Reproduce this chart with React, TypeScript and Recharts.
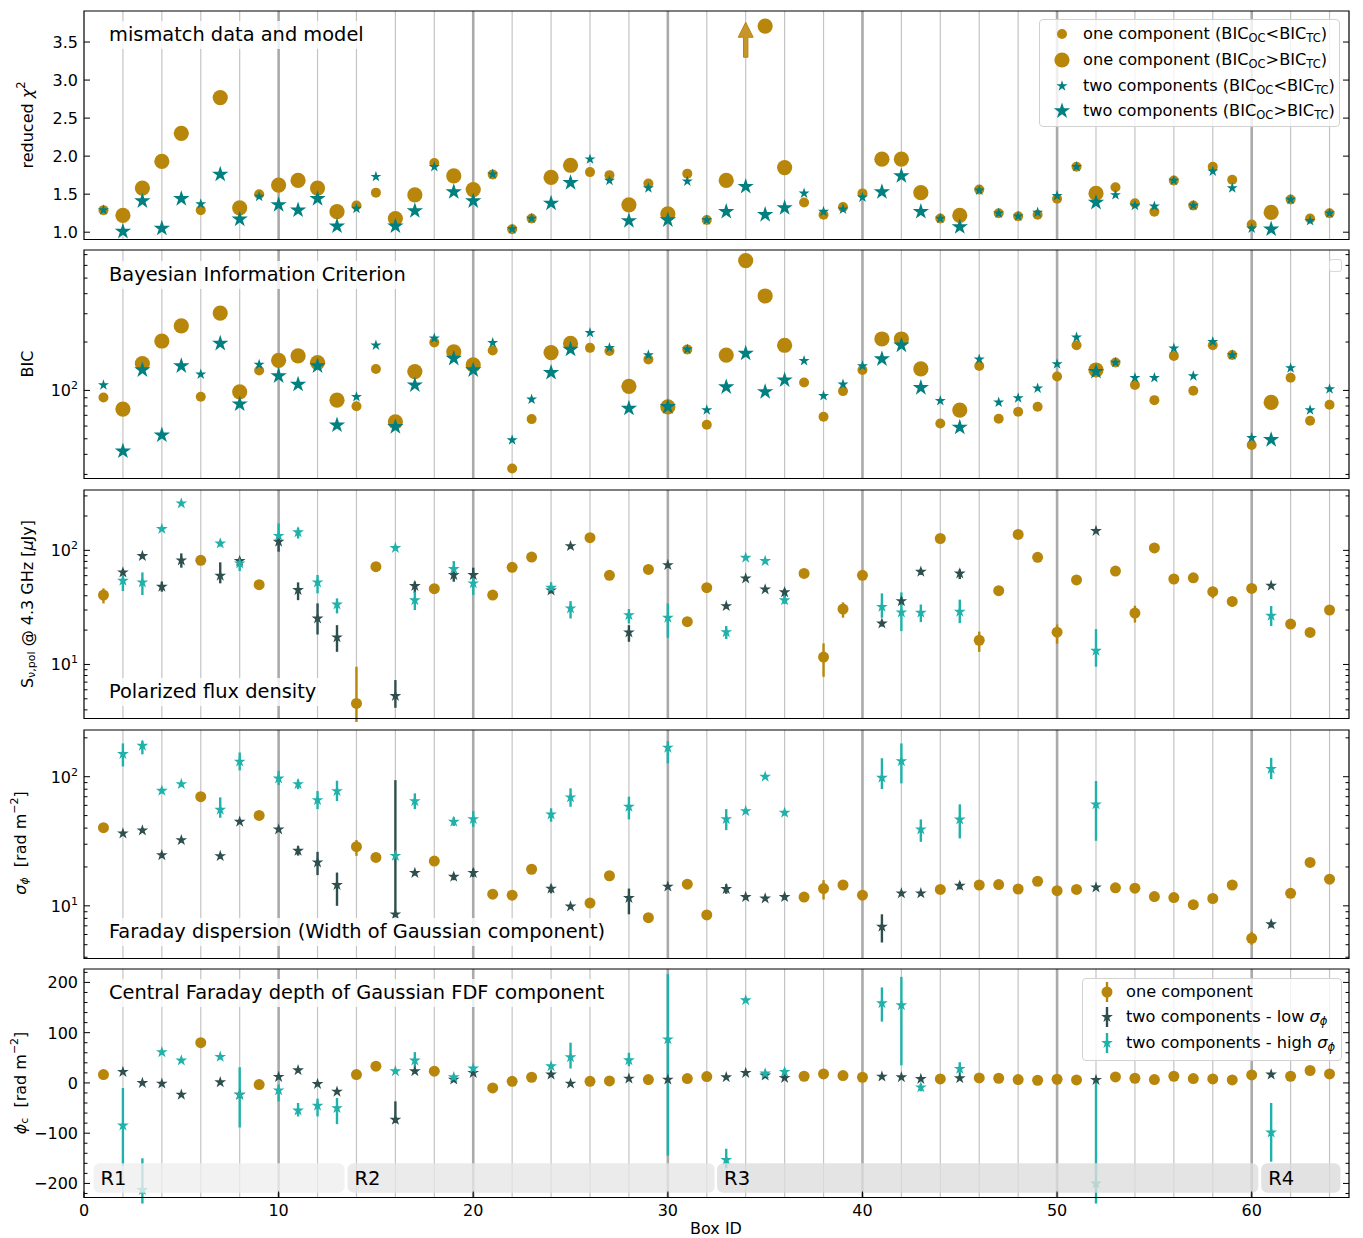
import React from 'react';
import { ScatterChart, Scatter, XAxis, YAxis, ReferenceLine, ReferenceArea, ErrorBar } from 'recharts';

const FONT = "'DejaVu Sans', Verdana, sans-serif";
const GOLD = '#b8860b';
const TEAL = '#008080';
const DARK = '#2f4f4f';
const LTEAL = '#20b2aa';

// ---------- categories ----------
const boxIds = [1,2,3,4,5,6,7,8,9,10,11,12,13,14,15,16,17,18,19,20,21,22,23,24,25,26,27,28,29,30,31,32,33,34,35,36,37,38,39,40,41,42,43,44,45,46,47,48,49,50,51,52,53,54,55,56,57,58,59,60,61,62,63,64];
// boxes where BIC_OC > BIC_TC (two components preferred)
const twoBoxes = [2,3,4,5,7,8,10,11,12,13,16,17,19,20,24,25,28,30,33,34,35,36,41,42,43,45,52,61];
// boxes where one component preferred
const oneBoxes = [1,6,9,14,15,18,21,22,23,26,27,29,31,32,37,38,39,40,44,46,47,48,49,50,51,53,54,55,56,57,58,59,60,62,63,64];
const xTicks = [0,10,20,30,40,50,60];

// ---------- panel 1: reduced chi^2 (per box) ----------
const chiOne = [1.29,1.22,1.58,1.93,2.30,1.29,2.77,1.32,1.50,1.62, 1.68,1.58,1.27,1.35,1.52,1.18,1.49,1.91,1.74,1.56, 1.76,1.04,1.18,1.72,1.88,1.79,1.75,1.36,1.64,1.24, 1.77,1.16,1.68,null,3.71,1.85,1.39,1.23,1.33,1.51, 1.96,1.96,1.52,1.18,1.22,1.56,1.25,1.21,1.23,1.44, 1.86,1.51,1.59,1.38,1.27,1.68,1.35,1.86,1.69,1.10, 1.26,1.43,1.18,1.25];
const chiTwo = [1.29,1.01,1.41,1.05,1.44,1.37,1.76,1.17,1.47,1.36, 1.29,1.44,1.08,1.31,1.73,1.08,1.28,1.86,1.53,1.41, 1.76,1.04,1.18,1.38,1.65,1.96,1.68,1.15,1.58,1.16, 1.67,1.16,1.27,1.60,1.23,1.32,1.51,1.27,1.30,1.46, 1.53,1.74,1.27,1.18,1.07,1.55,1.25,1.21,1.26,1.48, 1.86,1.39,1.49,1.35,1.34,1.68,1.35,1.80,1.58,1.05, 1.04,1.43,1.15,1.25];
const chiArrowBoxes = [34];
const chiArrowBase = [3.30];
const chiTicks = [1.0,1.5,2.0,2.5,3.0,3.5];

// ---------- panel 2: BIC (per box) ----------
const bicOne = [90.4,76.5,147,203,252,91.3,303,98,133,154, 164,149,87,79.8,136,63.8,131,199,174,144, 177,32.7,66.3,172,196,184,176,106,156,79.1, 180,61.1,166,643,387,191,112,68.5,99,134, 209,209,136,62.3,75.5,142,66.7,73.6,79.1,122, 191,134,149,108,87,164,99.5,191,166,45.7, 84.2,120,64.7,81.5];
const bicTwo = [108,41.9,134,52.7,142,126,196,82.2,145,123, 109,142,60.8,91.3,191,59.4,108,211,158,134, 198,49.1,87.9,129,180,228,184,77.3,166,79.1, 180,75.5,105,170,98,116,153,92.6,109,142, 157,191,104,86.3,58.9,156,84.2,89.6,103,146, 214,131,149,120,120,183,123,201,166,50.7, 49.3,138,75.5,102];
const bicTicks = [30,40,50,60,70,80,90,100,200,300,400,500,600,700];
const bicMajor = [100];

// ---------- panel 3: polarized flux (oneBoxes / twoBoxes order) ----------
const fluxOne = [40.6,81.7,50,4.55,71.9,46.1,40.6,71.0,87.4,129,60.4,68.1,23.7,47.1,62.8,11.6,30.6,60.4,127,16.3,44.3,138,86.9,19.2,55,65.9,28.2,105,56.1,57.5,43.4,35.7,46.4,22.6,19.1,30];
const fluxOneLo = [34.3,78,46.4,2.5,69,43.5,39,69,85,125,58.5,66,22.5,45,61,7.8,25.7,58.5,122,12.9,41.5,134,84,15.2,53,63.5,23.3,101,54,55.5,38,32,44.5,21.5,18.3,27.3];
const fluxOneHi = [46.4,85,53.1,9.55,75,48.8,42,73,90,133,62.5,70,25,49,65,15.3,35,62.5,132,19.4,47,142,90,22.4,57,68.5,32.7,109,58,59.5,48,38.7,48.5,23.7,20,32.5];
const fluxLow = [64.1,89.2,48,81.7,60,80.6,119,44.9,25.3,17.3,5.3,48.7,60.8,60.8,44.6,109,19.1,74.3,32.5,56.8,45.5,42.9,22.9,35.9,65,62.8,148,49];
const fluxLowLo = [60,86,43.4,70.5,51.4,75,97.3,36.6,18.3,12.9,4.17,42,53.1,52.4,42,104,15.8,71,31,54,43.5,39,21.5,33,61,56,142,47];
const fluxLowHi = [68,93,53.1,94.1,78.5,86,132,52.4,34.3,22.1,7.3,53.1,67.1,70.5,47.5,114,22.1,77,34,59.5,47.5,46,24.4,39,69,68,154,51];
const fluxHigh = [54.2,52.4,154,258,115,76.9,134,144,52.4,33.6,105,36.6,68.6,51.4,47.1,31,27.1,25.7,19.2,86.3,80.6,36.6,32,28.6,28.4,29,13.2,26.7];
const fluxHighLo = [44,40.6,148,250,108,65.9,115,127,42,28,100,30,58.8,40.6,42.8,25.3,22.9,17.1,16.7,83,77,33.8,25.7,19.6,23.5,23,9.55,21.7];
const fluxHighHi = [60.8,64.1,160,266,122,84,172,158,60.8,37.9,110,43.4,80.6,60.8,52.4,35.9,30.6,34.3,21.7,90,84,38.9,42,42.8,33.5,37,20.4,32.5];
const fluxTicks = [4,5,6,7,8,9,10,20,30,40,50,60,70,80,90,100,200,300];
const logMajor = [10,100];

// ---------- panel 4: Faraday dispersion ----------
const sigmaOne = [40.3,70,50.1,28.7,23.7,22.2,12.3,12.1,19.2,10.5,17.1,8.1,14.7,8.5,11.7,13.6,14.5,12.1,13.4,14.5,14.6,13.5,15.5,13.1,13.4,13.8,13.7,11.8,11.6,10.2,11.4,14.5,5.6,12.5,21.7,16.1];
const sigmaOneLo = [38.5,67,48,24.4,22.8,21.3,11.8,11.6,18.4,9.9,16.4,7.8,14.1,8.2,11.2,11.2,13.9,11.6,12.9,13.9,14,13,14.9,12.2,12.9,13.3,13.2,11.3,11.1,9.8,10.9,13.9,5.0,12,20.4,15.3];
const sigmaOneHi = [42,73,52.5,32.3,24.6,23.2,12.8,12.6,20,11.1,17.8,8.4,15.3,8.8,12.2,15.8,15.1,12.6,13.9,15.1,15.2,14,16.1,14,13.9,14.3,14.2,12.3,12.1,10.6,11.9,15.1,6.3,13,23.2,17];
const sigmaLow = [36.4,38.4,24.7,32.3,24.3,44.8,39.1,26.7,21.7,14.5,8.6,18,16.8,18,13.6,9.9,11.5,14.1,13.5,11.7,11.4,11.7,6.9,12.5,12.5,14.3,13.9,7.2];
const sigmaLowLo = [35,37,23.5,31,23.2,43,37.5,24.5,17.3,10,8.2,17.2,15.8,16.7,12.5,9.5,8.6,13.5,12.4,11.2,10.9,11.2,5.2,12,12,13.4,13.3,6.8];
const sigmaLowHi = [38,40,26,33.7,25.5,46.5,40.8,29,26.2,18.1,94,18.8,17.8,19.4,14.6,10.3,13.6,14.7,14.7,12.2,11.9,12.3,8.6,13,13,15.3,14.5,7.6];
const sigmaHigh = [150,174,77.9,87.7,55.5,131,97,87.7,65.9,77.4,24.4,64.7,44.8,47,51.1,69.2,58.5,168,47,54.2,100,52.6,98.2,132,39.1,46.7,61.1,115];
const sigmaHighLo = [120,149,74,84,48.1,112,86.2,80,56.1,64.7,23.5,56.1,41.5,40.9,44.8,58.5,46.7,127,38.6,52,97,50,80.2,88.8,31.3,33.3,31.9,95.9];
const sigmaHighHi = [181,190,82,91.5,69.2,154,111,95,77.4,93.1,25.5,74.3,48.5,54.2,56.9,81.3,70,189,56.1,56.5,103,55,139,181,46.7,61.1,92.6,140];
const sigmaTicks = [4,5,6,7,8,9,10,20,30,40,50,60,70,80,90,100,200];

// ---------- panel 5: central Faraday depth ----------
const phiOne = [16.7,80,-3.3,16.7,33.3,23.3,-10,3.3,11.3,3.3,4,6.7,8.7,12.7,13.3,18,14.7,11.3,8,10,9.3,6.7,5.3,7.3,6,12,9.3,6.7,13.3,8.7,8,6,16,13.3,24.7,18];
const phiLow = [22,0,-1.3,-23.3,1.3,-23.3,12,25.3,-2,-17.3,-73.3,23.3,6.7,20,16.7,-1.3,8.7,6.7,11.3,20,14.7,10,12.7,11.3,8,9.3,6,16.7];
const phiLowLo = [18,-4,-5,-27,-3,-27,8,21,-6,-21,-80,19,3,16,13,-5,5,3,8,17,11,6,9,8,5,6,3,13];
const phiLowHi = [26,4,2.5,-19.5,5.5,-19.5,16,29.5,2,-13.5,-36.7,27.5,10.5,24,20.5,2.5,12.5,10.5,14.5,23,18.5,14,16.5,14.5,11,12.5,9,20.5];
const phiHigh = [-84.7,-213,61.3,44.7,52,-23.3,-14.7,-54.7,-45.3,-50,23.3,44.7,11.3,28.7,33.3,51.3,45.3,86.7,-153.3,164.7,18.7,22,158.7,154.7,-8.7,28,-200,-98.7];
const phiHighLo = [-165,-240,56,41,47,-88.7,-36.7,-66.7,-66.7,-82,20,30,6,24,28,28.7,33.3,-144.7,-170,161,13,16,122,35,-16.7,16.7,-240,-156.7];
const phiHighHi = [-10,-150,66,48,57,31.3,-3.3,-40,-31.3,-30,27,61.3,16,33,38,80,60,216.7,-131,168,24,28,190,211,-2,41.3,3,-40];
const phiTicks = [-220,-200,-180,-160,-140,-120,-100,-80,-60,-40,-20,0,20,40,60,80,100,120,140,160,180,200,220];
const phiMajor = [-200,-100,0,100,200];

// regions
const regionNames = ['R1','R2','R3','R4'];
const regionStart = [0.49,13.54,32.53,60.49];
const regionEnd = [13.39,32.4,60.34,64.56];
const regionFill = ['#efefef','#e6e6e6','#dddddd','#dbdbdb'];
const regionLow = -218.7;
const regionHigh = -160;

// ---------- layout ----------
const CHART_W = 1363;
const PLOT_LEFT = 84;
const PLOT_RIGHT = 1349;
const PLOT_W = PLOT_RIGHT - PLOT_LEFT;
const PLOT_H = 228.5;
const YAXIS_W = 60;
const panelTops = [11, 250, 489.5, 729.5, 969];
const TICK_FS = 16;
const LABEL_FS = 16;
const TITLE_FS = 19.4;
const LEG_FS = 16.2;

// ---------- data builders ----------
const isTwo = (b: number) => twoBoxes.includes(b);
const perBox = (vals: (number | null)[], pick: (b: number) => boolean) =>
  boxIds.filter((b) => pick(b) && vals[b - 1] !== null).map((b) => ({ x: b, y: vals[b - 1] as number }));
const withErr = (boxes: number[], vals: number[], lo?: number[], hi?: number[]) =>
  boxes.map((b, i) => ({ x: b, y: vals[i], err: lo && hi ? [vals[i] - lo[i], hi[i] - vals[i]] : [0, 0] }));

const gridBoxes = boxIds.filter((b) => b % 2 === 0);

// ---------- shapes ----------
const starPath = (cx: number, cy: number, R: number) => {
  const r = R * 0.382;
  let d = '';
  for (let i = 0; i < 10; i++) {
    const a = -Math.PI / 2 + (i * Math.PI) / 5;
    const rr = i % 2 === 0 ? R : r;
    d += (i ? 'L' : 'M') + (cx + rr * Math.cos(a)).toFixed(2) + ',' + (cy + rr * Math.sin(a)).toFixed(2);
  }
  return d + 'Z';
};
const circleShape = (r: number, color: string) => (p: any) =>
  p.cx == null ? <g /> : <circle cx={p.cx} cy={p.cy} r={r} fill={color} />;
const starShape = (R: number, color: string) => (p: any) =>
  p.cx == null ? <g /> : <path d={starPath(p.cx, p.cy, R)} fill={color} />;
const arrowShape = (p: any) => {
  if (p.cx == null) return <g />;
  const { cx, cy } = p;
  const sw = 2.2, shaft = 20, head = 15, hw = 7.5;
  const d = `M${cx - sw},${cy} L${cx - sw},${cy - shaft} L${cx - hw},${cy - shaft} L${cx},${cy - shaft - head} L${cx + hw},${cy - shaft} L${cx + sw},${cy - shaft} L${cx + sw},${cy} Z`;
  return <path d={d} fill="#c8952a" stroke={GOLD} strokeWidth={1} />;
};

// ---------- ticks ----------
const supFmt = (exp: string) => (
  <>
    <tspan>10</tspan>
    <tspan dy={-7} fontSize={11}>{exp}</tspan>
  </>
);
const fmtChi = (v: number) => v.toFixed(1);
const fmtLog = (v: number) => (v === 10 ? supFmt('1') : v === 100 ? supFmt('2') : String(v));
const fmtPhi = (v: number) => (v < 0 ? '\u2212' + Math.abs(v) : String(v));

const makeYTick = (majors: number[], fmt: (v: number) => React.ReactNode) => (p: any) => {
  const v = p.payload.value;
  const major = majors.some((m) => Math.abs(m - v) < 1e-9);
  const ax = p.x + 8;
  const len = major ? 6 : 3.5;
  return (
    <g>
      <line x1={ax} x2={ax + len} y1={p.y} y2={p.y} stroke="#000" strokeWidth={1} />
      <line x1={ax + PLOT_W} x2={ax + PLOT_W - len} y1={p.y} y2={p.y} stroke="#000" strokeWidth={1} />
      {major && (
        <text x={ax - 6} y={p.y} dy={6} textAnchor="end" fontSize={TICK_FS} fill="#000" fontFamily={FONT}>
          {fmt(v)}
        </text>
      )}
    </g>
  );
};
const renderXTick = (p: any) => (
  <g>
    <line x1={p.x} x2={p.x} y1={p.y} y2={p.y - 6} stroke="#000" strokeWidth={1} />
    <text x={p.x} y={p.y + 18} textAnchor="middle" fontSize={TICK_FS} fill="#000" fontFamily={FONT}>
      {p.payload.value}
    </text>
  </g>
);

type PanelProps = {
  top: number;
  domain: [number, number];
  scale: 'linear' | 'log';
  ticks: number[];
  majors: number[];
  fmt: (v: number) => React.ReactNode;
  showX?: boolean;
  series: React.ReactNode[];
  overlays?: React.ReactNode[];
};

function Panel({ top, domain, scale, ticks, majors, fmt, showX, series, overlays }: PanelProps) {
  const mt = 4;
  const mb = 4;
  const xh = showX ? 36 : 0;
  return (
    <div style={{ position: 'absolute', left: 0, top: top - mt }}>
      <ScatterChart
        width={CHART_W}
        height={PLOT_H + mt + mb + xh}
        margin={{ top: mt, right: CHART_W - PLOT_RIGHT, bottom: mb, left: PLOT_LEFT - YAXIS_W }}
      >
        <XAxis
          type="number"
          dataKey="x"
          domain={[0, 65]}
          allowDataOverflow
          ticks={xTicks}
          interval={0}
          hide={!showX}
          height={xh}
          tickSize={0}
          tickMargin={0}
          tickLine={false}
          axisLine={false}
          tick={renderXTick}
        />
        <YAxis
          type="number"
          dataKey="y"
          scale={scale}
          domain={domain}
          allowDataOverflow
          ticks={ticks}
          interval={0}
          width={YAXIS_W}
          tickSize={0}
          tickMargin={8}
          tickLine={false}
          axisLine={false}
          tick={makeYTick(majors, fmt)}
        />
        {gridBoxes.map((b) => (
          <ReferenceLine
            key={'g' + b}
            x={b}
            stroke={b % 10 === 0 ? '#aaaaaa' : '#c4c4c4'}
            strokeWidth={b % 10 === 0 ? 2.6 : 1.2}
            zIndex={-50}
          />
        ))}
        {series}
        {overlays || []}
        <ReferenceArea x1={0} x2={65} y1={domain[0]} y2={domain[1]} fill="none" fillOpacity={0} stroke="#000" strokeWidth={1.2} zIndex={2500} />
      </ScatterChart>
    </div>
  );
}

const TitleBox = ({ text, cy }: { text: string; cy: number }) => (
  <div
    style={{
      position: 'absolute',
      left: 103,
      top: cy - 14,
      height: 28,
      lineHeight: '28px',
      padding: '0 6px',
      fontSize: TITLE_FS,
      color: '#000',
      background: 'rgba(255,255,255,0.8)',
      whiteSpace: 'nowrap',
    }}
  >
    {text}
  </div>
);

const LegendRow = ({ y, marker, children }: { y: number; marker: React.ReactNode; children: React.ReactNode }) => (
  <div style={{ position: 'absolute', left: 0, top: y - 12, height: 24, width: '100%' }}>
    <svg width={40} height={24} style={{ position: 'absolute', left: 2, top: 0 }}>
      {marker}
    </svg>
    <div style={{ position: 'absolute', left: 43, top: 0, lineHeight: '24px', fontSize: LEG_FS, whiteSpace: 'nowrap' }}>{children}</div>
  </div>
);

const subStyle: React.CSSProperties = { fontSize: 11.5, verticalAlign: '-3px', lineHeight: 0 };

export default function App() {
  const chiSmallOne = perBox(chiOne, (b) => !isTwo(b));
  const chiBigOne = perBox(chiOne, (b) => isTwo(b));
  const chiSmallTwo = perBox(chiTwo, (b) => !isTwo(b));
  const chiBigTwo = perBox(chiTwo, (b) => isTwo(b));
  const chiArrow = chiArrowBoxes.map((b, i) => ({ x: b, y: chiArrowBase[i] }));

  const bicSmallOne = perBox(bicOne, (b) => !isTwo(b));
  const bicBigOne = perBox(bicOne, (b) => isTwo(b));
  const bicSmallTwo = perBox(bicTwo, (b) => !isTwo(b));
  const bicBigTwo = perBox(bicTwo, (b) => isTwo(b));

  const fOne = withErr(oneBoxes, fluxOne, fluxOneLo, fluxOneHi);
  const fLow = withErr(twoBoxes, fluxLow, fluxLowLo, fluxLowHi);
  const fHigh = withErr(twoBoxes, fluxHigh, fluxHighLo, fluxHighHi);
  const sOne = withErr(oneBoxes, sigmaOne, sigmaOneLo, sigmaOneHi);
  const sLow = withErr(twoBoxes, sigmaLow, sigmaLowLo, sigmaLowHi);
  const sHigh = withErr(twoBoxes, sigmaHigh, sigmaHighLo, sigmaHighHi);
  const pOne = withErr(oneBoxes, phiOne);
  const pLow = withErr(twoBoxes, phiLow, phiLowLo, phiLowHi);
  const pHigh = withErr(twoBoxes, phiHigh, phiHighLo, phiHighHi);

  const threeSeries = (one: any[], low: any[], high: any[], key: string) => [
    <Scatter key={key + 'o'} data={one} fill={GOLD} shape={circleShape(5.5, GOLD)} isAnimationActive={false}>
      <ErrorBar dataKey="err" direction="y" width={0} stroke={GOLD} strokeWidth={2.4} />
    </Scatter>,
    <Scatter key={key + 'l'} data={low} fill={DARK} shape={starShape(6.2, DARK)} isAnimationActive={false}>
      <ErrorBar dataKey="err" direction="y" width={0} stroke={DARK} strokeWidth={2.4} />
    </Scatter>,
    <Scatter key={key + 'h'} data={high} fill={LTEAL} shape={starShape(6.2, LTEAL)} isAnimationActive={false}>
      <ErrorBar dataKey="err" direction="y" width={0} stroke={LTEAL} strokeWidth={2.4} />
    </Scatter>,
  ];

  const bicChiSeries = (so: any[], bo: any[], st: any[], bt: any[], key: string) => [
    <Scatter key={key + '1'} data={so} fill={GOLD} shape={circleShape(5, GOLD)} isAnimationActive={false} />,
    <Scatter key={key + '2'} data={bo} fill={GOLD} shape={circleShape(7.6, GOLD)} isAnimationActive={false} />,
    <Scatter key={key + '3'} data={st} fill={TEAL} shape={starShape(5.8, TEAL)} isAnimationActive={false} />,
    <Scatter key={key + '4'} data={bt} fill={TEAL} shape={starShape(8.6, TEAL)} isAnimationActive={false} />,
  ];

  const regionAreas = regionNames.map((name, i) => (
    <ReferenceArea
      key={'reg' + name}
      x1={regionStart[i]}
      x2={regionEnd[i]}
      y1={regionLow}
      y2={regionHigh}
      zIndex={1500}
      shape={(p: any) => (
        <rect x={p.x} y={p.y} width={p.width} height={p.height} rx={6} ry={6} fill={regionFill[i]} fillOpacity={0.8} />
      )}
    />
  ));
  const regionLabels = regionNames.map((name, i) => (
    <ReferenceArea
      key={'regl' + name}
      x1={regionStart[i]}
      x2={regionEnd[i]}
      y1={regionLow}
      y2={regionHigh}
      zIndex={2200}
      fill="none"
      fillOpacity={0}
      stroke="none"
      label={{ value: name, position: 'insideLeft', offset: 7, fontSize: 19.5, fill: '#000', fontFamily: FONT }}
    />
  ));

  return (
    <div style={{ position: 'absolute', left: 0, top: 0, width: 1363, height: 1238, fontFamily: FONT, color: '#000', background: '#fff' }}>
      <Panel
        top={panelTops[0]}
        domain={[0.904, 3.908]}
        scale="linear"
        ticks={chiTicks}
        majors={chiTicks}
        fmt={fmtChi}
        series={[
          ...bicChiSeries(chiSmallOne, chiBigOne, chiSmallTwo, chiBigTwo, 'chi'),
          <Scatter key="arrow" data={chiArrow} fill={GOLD} shape={arrowShape} isAnimationActive={false} />,
        ]}
      />
      <Panel
        top={panelTops[1]}
        domain={[28.3, 748]}
        scale="log"
        ticks={bicTicks}
        majors={bicMajor}
        fmt={fmtLog}
        series={bicChiSeries(bicSmallOne, bicBigOne, bicSmallTwo, bicBigTwo, 'bic')}
      />
      <Panel
        top={panelTops[2]}
        domain={[3.36, 338]}
        scale="log"
        ticks={fluxTicks}
        majors={logMajor}
        fmt={fmtLog}
        series={threeSeries(fOne, fLow, fHigh, 'flux')}
      />
      <Panel
        top={panelTops[3]}
        domain={[3.91, 230]}
        scale="log"
        ticks={sigmaTicks}
        majors={logMajor}
        fmt={fmtLog}
        series={threeSeries(sOne, sLow, sHigh, 'sig')}
      />
      <Panel
        top={panelTops[4]}
        domain={[-228, 226.7]}
        scale="linear"
        ticks={phiTicks}
        majors={phiMajor}
        fmt={fmtPhi}
        showX
        series={threeSeries(pOne, pLow, pHigh, 'phi')}
        overlays={[...regionAreas, ...regionLabels]}
      />

      {/* axis labels */}
      <svg width={1363} height={1238} style={{ position: 'absolute', left: 0, top: 0, pointerEvents: 'none' }}>
        <g fontFamily={FONT} fontSize={LABEL_FS} fill="#000">
          <text transform="translate(27,125) rotate(-90)" textAnchor="middle" dominantBaseline="central">
            reduced <tspan fontStyle="italic">χ</tspan>
            <tspan dy={-6} fontSize={11.5}>2</tspan>
          </text>
          <text transform="translate(27,364) rotate(-90)" textAnchor="middle" dominantBaseline="central">
            BIC
          </text>
          <text transform="translate(27,604) rotate(-90)" textAnchor="middle" dominantBaseline="central">
            S<tspan dy={4} fontSize={11}>ν,pol</tspan>
            <tspan dy={-4}>{'\u00a0@ 4.3 GHz ['}</tspan>
            <tspan fontStyle="italic">μ</tspan>
            <tspan>Jy]</tspan>
          </text>
          <text transform="translate(20,843) rotate(-90)" textAnchor="middle" dominantBaseline="central">
            <tspan fontStyle="italic">σ</tspan>
            <tspan dy={4} fontSize={11} fontStyle="italic">ϕ</tspan>
            <tspan dy={-4}>{'\u00a0\u00a0[rad m'}</tspan>
            <tspan dy={-6} fontSize={11}>{'\u22122'}</tspan>
            <tspan dy={6}>]</tspan>
          </text>
          <text transform="translate(20,1083) rotate(-90)" textAnchor="middle" dominantBaseline="central">
            <tspan fontStyle="italic">ϕ</tspan>
            <tspan dy={4} fontSize={11}>c</tspan>
            <tspan dy={-4}>{'\u00a0\u00a0[rad m'}</tspan>
            <tspan dy={-6} fontSize={11}>{'\u22122'}</tspan>
            <tspan dy={6}>]</tspan>
          </text>
          <text x={716} y={1228} textAnchor="middle" dominantBaseline="central">
            Box ID
          </text>
        </g>
      </svg>

      {/* panel titles */}
      <TitleBox text="mismatch data and model" cy={35} />
      <TitleBox text="Bayesian Information Criterion" cy={275} />
      <TitleBox text="Polarized flux density" cy={692} />
      <TitleBox text="Faraday dispersion (Width of Gaussian component)" cy={932} />
      <TitleBox text="Central Faraday depth of Gaussian FDF component" cy={993} />

      {/* legend panel 1 */}
      <div
        style={{
          position: 'absolute',
          left: 1039,
          top: 19,
          width: 301,
          height: 108,
          border: '1px solid #d2d2d2',
          borderRadius: 4,
          background: 'rgba(255,255,255,0.8)',
          boxSizing: 'border-box',
        }}
      >
        <LegendRow y={14} marker={<circle cx={20} cy={12} r={5} fill={GOLD} />}>
          one component (BIC<sub style={subStyle}>OC</sub>&lt;BIC<sub style={subStyle}>TC</sub>)
        </LegendRow>
        <LegendRow y={40} marker={<circle cx={20} cy={12} r={7.6} fill={GOLD} />}>
          one component (BIC<sub style={subStyle}>OC</sub>&gt;BIC<sub style={subStyle}>TC</sub>)
        </LegendRow>
        <LegendRow y={65.5} marker={<path d={starPath(20, 12, 5.8)} fill={TEAL} />}>
          two components (BIC<sub style={subStyle}>OC</sub>&lt;BIC<sub style={subStyle}>TC</sub>)
        </LegendRow>
        <LegendRow y={91} marker={<path d={starPath(20, 12, 8.6)} fill={TEAL} />}>
          two components (BIC<sub style={subStyle}>OC</sub>&gt;BIC<sub style={subStyle}>TC</sub>)
        </LegendRow>
      </div>

      {/* empty legend panel 2 */}
      <div
        style={{
          position: 'absolute',
          left: 1329,
          top: 259,
          width: 13,
          height: 13,
          border: '1px solid #d8d8d8',
          borderRadius: 3,
          background: 'rgba(255,255,255,0.8)',
          boxSizing: 'border-box',
        }}
      />

      {/* legend panel 5 */}
      <div
        style={{
          position: 'absolute',
          left: 1082,
          top: 978,
          width: 260,
          height: 83,
          border: '1px solid #d2d2d2',
          borderRadius: 4,
          background: 'rgba(255,255,255,0.8)',
          boxSizing: 'border-box',
        }}
      >
        <LegendRow
          y={13}
          marker={
            <g>
              <line x1={22} x2={22} y1={2} y2={22} stroke={GOLD} strokeWidth={2.4} />
              <circle cx={22} cy={12} r={5.5} fill={GOLD} />
            </g>
          }
        >
          one component
        </LegendRow>
        <LegendRow
          y={37.5}
          marker={
            <g>
              <line x1={22} x2={22} y1={2} y2={22} stroke={DARK} strokeWidth={2.4} />
              <path d={starPath(22, 12, 6.2)} fill={DARK} />
            </g>
          }
        >
          two components - low <i>σ</i>
          <sub style={subStyle}>
            <i>ϕ</i>
          </sub>
        </LegendRow>
        <LegendRow
          y={63.5}
          marker={
            <g>
              <line x1={22} x2={22} y1={2} y2={22} stroke={LTEAL} strokeWidth={2.4} />
              <path d={starPath(22, 12, 6.2)} fill={LTEAL} />
            </g>
          }
        >
          two components - high <i>σ</i>
          <sub style={subStyle}>
            <i>ϕ</i>
          </sub>
        </LegendRow>
      </div>
    </div>
  );
}
